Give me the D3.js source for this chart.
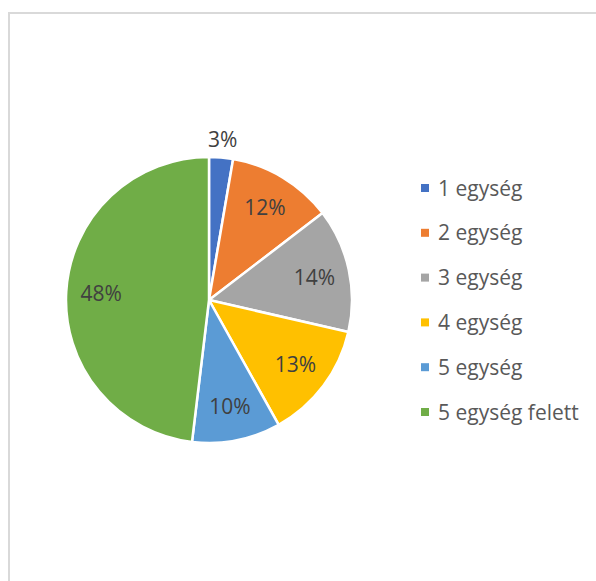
<!DOCTYPE html>
<html>
<head>
<meta charset="utf-8">
<script src="https://cdn.jsdelivr.net/npm/d3@7"></script>
<style>
html,body{margin:0;padding:0;background:#fff;}
svg{display:block;}
</style>
</head>
<body>
<svg id="chart" width="596" height="581"></svg>
<script>
const categories = ["1 egység", "2 egység", "3 egység", "4 egység", "5 egység", "5 egység felett"];
const values = [2.7, 11.9, 14.0, 13.3, 10.0, 48.1];
const labels = ["3%", "12%", "14%", "13%", "10%", "48%"];
const colors = ["#4472C4", "#ED7D31", "#A5A5A5", "#FFC000", "#5B9BD5", "#70AD47"];

const svg = d3.select("#chart");
const FONT = "'Open Sans', sans-serif";

// chart frame
svg.append("rect").attr("x", 9).attr("y", 13).attr("width", 620).attr("height", 600)
  .attr("fill", "#fff").attr("stroke", "#d9d9d9").attr("stroke-width", 2);

const cx = 209, cy = 300, R = 143;
const color = d3.scaleOrdinal().domain(categories).range(colors);
const pie = d3.pie().sort(null).value((d, i) => values[i]);
const arcs = pie(categories);
const arc = d3.arc().innerRadius(0).outerRadius(R);
const labelArc = d3.arc().innerRadius(108).outerRadius(108);
const outArc = d3.arc().innerRadius(161).outerRadius(161);

const g = svg.append("g").attr("transform", `translate(${cx},${cy})`);
g.selectAll("path").data(arcs).join("path")
  .attr("d", arc)
  .attr("fill", d => color(d.data))
  .attr("stroke", "#fff").attr("stroke-width", 2.5).attr("stroke-linejoin", "round");

g.selectAll("text").data(arcs).join("text")
  .attr("transform", (d, i) => {
    const c = (i === 0 ? outArc : labelArc).centroid(d);
    return `translate(${c[0]},${c[1]})`;
  })
  .attr("text-anchor", "middle").attr("dy", "0.36em")
  .attr("font-family", FONT).attr("font-size", 21).attr("fill", "#404040")
  .text((d, i) => labels[i]);

// legend
const y = d3.scalePoint().domain(categories).range([188, 412]);
const lg = svg.append("g");
const item = lg.selectAll("g").data(categories).join("g")
  .attr("transform", d => `translate(421,${y(d)})`);
item.append("rect").attr("x", 0).attr("y", -4).attr("width", 8).attr("height", 8)
  .attr("fill", d => color(d));
item.append("text").attr("x", 17).attr("dy", "0.36em")
  .attr("font-family", FONT).attr("font-size", 21).attr("fill", "#595959")
  .text(d => d);
</script>
</body>
</html>
